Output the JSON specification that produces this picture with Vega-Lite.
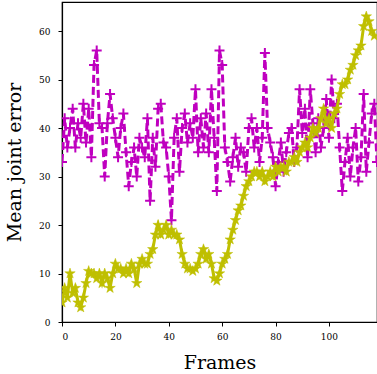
{
  "$schema": "https://vega.github.io/schema/vega-lite/v6.json",
  "autosize": "none",
  "width": 315,
  "height": 320,
  "padding": {"left": 62, "top": 2, "right": 0, "bottom": 52},
  "background": "white",
  "config": {
    "view": {"stroke": "black", "strokeWidth": 1.2},
    "axis": {
      "labelFont": "DejaVu Serif", "labelFontSize": 9, "labelColor": "black",
      "titleFont": "DejaVu Serif", "titleFontSize": 19, "titleFontWeight": "normal", "titleColor": "black",
      "domainColor": "black", "domainWidth": 1.2, "tickColor": "black", "tickSize": 4, "grid": false
    }
  },
  "datasets": {
    "m": [
      {"frame":0,"value":33},{"frame":1,"value":42},{"frame":2,"value":36},{"frame":3,"value":40},{"frame":4,"value":44},
      {"frame":5,"value":36},{"frame":6,"value":41},{"frame":7,"value":38},{"frame":8,"value":45},{"frame":9,"value":37},
      {"frame":10,"value":44},{"frame":11,"value":34},{"frame":12,"value":53},{"frame":13,"value":56},{"frame":14,"value":41},
      {"frame":15,"value":40},{"frame":16,"value":30},{"frame":17,"value":41},{"frame":18,"value":47},{"frame":19,"value":42},
      {"frame":20,"value":38},{"frame":21,"value":34},{"frame":22,"value":40},{"frame":23,"value":43},{"frame":24,"value":35},
      {"frame":25,"value":28},{"frame":26,"value":33},{"frame":27,"value":36},{"frame":28,"value":30},{"frame":29,"value":38},
      {"frame":30,"value":36},{"frame":31,"value":34},{"frame":32,"value":42},{"frame":33,"value":25},{"frame":34,"value":38},
      {"frame":35,"value":32},{"frame":36,"value":44},{"frame":37,"value":45},{"frame":38,"value":37},{"frame":39,"value":36},
      {"frame":40,"value":30},{"frame":41,"value":21},{"frame":42,"value":38},{"frame":43,"value":42},{"frame":44,"value":31},
      {"frame":45,"value":40},{"frame":46,"value":43},{"frame":47,"value":37},{"frame":48,"value":41},{"frame":49,"value":38},
      {"frame":50,"value":48},{"frame":51,"value":35},{"frame":52,"value":42},{"frame":53,"value":36},{"frame":54,"value":43},
      {"frame":55,"value":35},{"frame":56,"value":48},{"frame":57,"value":38},{"frame":58,"value":27},{"frame":59,"value":56},
      {"frame":60,"value":53},{"frame":61,"value":36},{"frame":62,"value":33},{"frame":63,"value":29},{"frame":64,"value":34},
      {"frame":65,"value":38},{"frame":66,"value":32},{"frame":67,"value":36},{"frame":68,"value":35},{"frame":69,"value":31},
      {"frame":70,"value":40},{"frame":71,"value":42},{"frame":72,"value":36},{"frame":73,"value":40},{"frame":74,"value":33},
      {"frame":75,"value":38},{"frame":76,"value":55.5},{"frame":77,"value":40},{"frame":78,"value":37},{"frame":79,"value":34},
      {"frame":80,"value":28},{"frame":81,"value":33},{"frame":82,"value":37},{"frame":83,"value":31},{"frame":84,"value":35},
      {"frame":85,"value":39},{"frame":86,"value":40},{"frame":87,"value":33},{"frame":88,"value":36},{"frame":89,"value":48},
      {"frame":90,"value":39},{"frame":91,"value":44},{"frame":92,"value":34},{"frame":93,"value":48},{"frame":94,"value":41},
      {"frame":95,"value":35},{"frame":96,"value":42},{"frame":97,"value":36},{"frame":98,"value":40},{"frame":99,"value":46},
      {"frame":100,"value":38},{"frame":101,"value":50},{"frame":102,"value":42},{"frame":103,"value":45},{"frame":104,"value":36},
      {"frame":105,"value":27},{"frame":106,"value":33},{"frame":107,"value":38},{"frame":108,"value":30},{"frame":109,"value":36},
      {"frame":110,"value":40},{"frame":111,"value":29},{"frame":112,"value":34},{"frame":113,"value":47},{"frame":114,"value":31},
      {"frame":115,"value":37},{"frame":116,"value":43},{"frame":117,"value":45},{"frame":118,"value":33}
    ],
    "y": [
      {"frame":0,"value":4},{"frame":1,"value":7},{"frame":2,"value":5},{"frame":3,"value":10},{"frame":4,"value":6},
      {"frame":5,"value":7},{"frame":6,"value":4},{"frame":7,"value":3},{"frame":8,"value":5},{"frame":9,"value":8},
      {"frame":10,"value":10.5},{"frame":11,"value":10},{"frame":12,"value":10},{"frame":13,"value":9},{"frame":14,"value":10},
      {"frame":15,"value":8},{"frame":16,"value":10},{"frame":17,"value":9},{"frame":18,"value":7},{"frame":19,"value":10},
      {"frame":20,"value":12},{"frame":21,"value":11},{"frame":22,"value":11},{"frame":23,"value":10},{"frame":24,"value":11},
      {"frame":25,"value":10},{"frame":26,"value":12},{"frame":27,"value":11},{"frame":28,"value":8},{"frame":29,"value":12},
      {"frame":30,"value":13},{"frame":31,"value":12},{"frame":32,"value":12},{"frame":33,"value":14},{"frame":34,"value":15},
      {"frame":35,"value":18},{"frame":36,"value":20},{"frame":37,"value":18},{"frame":38,"value":19},{"frame":39,"value":20},
      {"frame":40,"value":18},{"frame":41,"value":19},{"frame":42,"value":18},{"frame":43,"value":18},{"frame":44,"value":17},
      {"frame":45,"value":14},{"frame":46,"value":12},{"frame":47,"value":11},{"frame":48,"value":11},{"frame":49,"value":10.5},
      {"frame":50,"value":11},{"frame":51,"value":12},{"frame":52,"value":14},{"frame":53,"value":15},{"frame":54,"value":13},
      {"frame":55,"value":14},{"frame":56,"value":12},{"frame":57,"value":9},{"frame":58,"value":8.5},{"frame":59,"value":10},
      {"frame":60,"value":12},{"frame":61,"value":13},{"frame":62,"value":14},{"frame":63,"value":17},{"frame":64,"value":19},
      {"frame":65,"value":21},{"frame":66,"value":23},{"frame":67,"value":24},{"frame":68,"value":26},{"frame":69,"value":28},
      {"frame":70,"value":29},{"frame":71,"value":30},{"frame":72,"value":31},{"frame":73,"value":31},{"frame":74,"value":30},
      {"frame":75,"value":31},{"frame":76,"value":29},{"frame":77,"value":30},{"frame":78,"value":31},{"frame":79,"value":30},
      {"frame":80,"value":32},{"frame":81,"value":31},{"frame":82,"value":32},{"frame":83,"value":32},{"frame":84,"value":31},
      {"frame":85,"value":33},{"frame":86,"value":33},{"frame":87,"value":34},{"frame":88,"value":33},{"frame":89,"value":35},
      {"frame":90,"value":36},{"frame":91,"value":37},{"frame":92,"value":36},{"frame":93,"value":38},{"frame":94,"value":40},
      {"frame":95,"value":39},{"frame":96,"value":40},{"frame":97,"value":42},{"frame":98,"value":44},{"frame":99,"value":41},
      {"frame":100,"value":42},{"frame":101,"value":40},{"frame":102,"value":43},{"frame":103,"value":44},{"frame":104,"value":47},
      {"frame":105,"value":49},{"frame":106,"value":49},{"frame":107,"value":50},{"frame":108,"value":52},{"frame":109,"value":53},
      {"frame":110,"value":55},{"frame":111,"value":56},{"frame":112,"value":57},{"frame":113,"value":61},{"frame":114,"value":63},
      {"frame":115,"value":62},{"frame":116,"value":60},{"frame":117,"value":59}
    ]
  },
  "encoding": {
    "x": {"field": "frame", "type": "quantitative", "title": "Frames",
          "scale": {"domain": [0, 118], "nice": false, "zero": false},
          "axis": {"values": [0, 20, 40, 60, 80, 100], "labelPadding": 6, "titlePadding": 12}},
    "y": {"field": "value", "type": "quantitative", "title": "Mean joint error",
          "scale": {"domain": [0, 66], "nice": false},
          "axis": {"values": [0, 10, 20, 30, 40, 50, 60], "labelPadding": 8, "titlePadding": 14}}
  },
  "layer": [
    {"data": {"name": "m"}, "mark": {"type": "line", "color": "#bf00bf", "strokeWidth": 3, "strokeDash": [8, 4], "clip": true}},
    {"data": {"name": "m"}, "mark": {"type": "point", "shape": "M-1,0H1M0,-1V1", "size": 100, "filled": false, "stroke": "#bf00bf", "strokeWidth": 2, "opacity": 1, "clip": true}},
    {"data": {"name": "y"}, "mark": {"type": "line", "color": "#bfbf00", "strokeWidth": 3, "clip": true}},
    {"data": {"name": "y"}, "mark": {"type": "point", "shape": "M0,-1L0.2245,-0.309L0.951,-0.309L0.363,0.118L0.588,0.809L0,0.382L-0.588,0.809L-0.363,0.118L-0.951,-0.309L-0.2245,-0.309Z", "size": 120, "filled": true, "fill": "#bfbf00", "stroke": "#bfbf00", "strokeWidth": 0.5, "opacity": 1, "clip": true}}
  ]
}
